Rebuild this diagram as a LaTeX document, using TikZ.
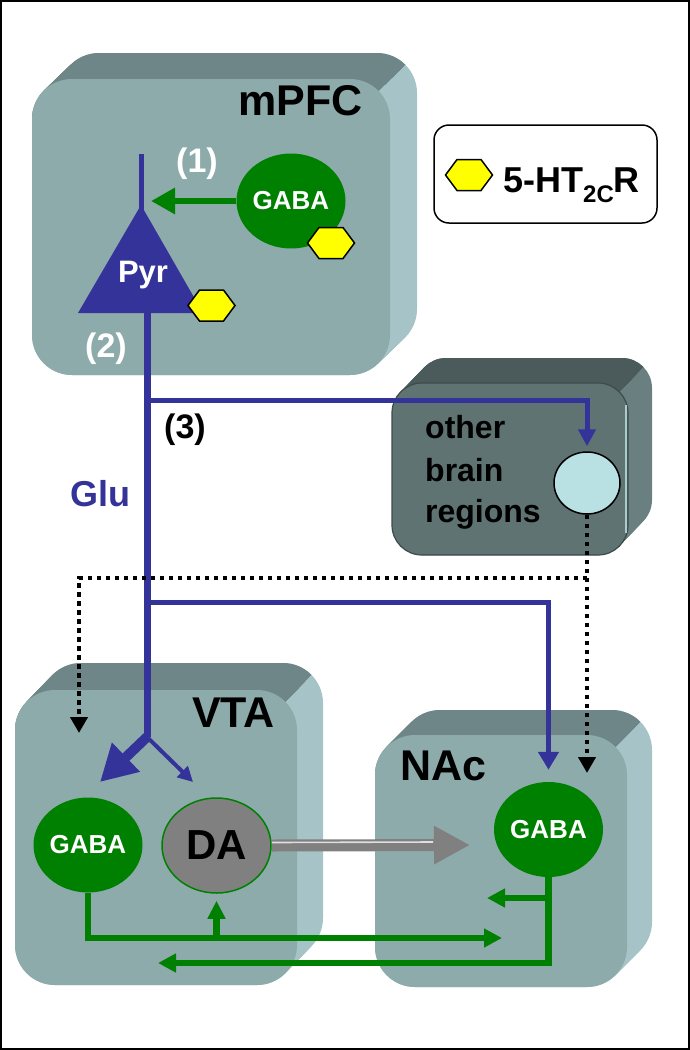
\documentclass[tikz,border=0pt]{standalone}
\usepackage{fontspec}
\setmainfont{Liberation Sans}
\usetikzlibrary{arrows.meta,calc,shapes.geometric}
\definecolor{frontc}{HTML}{8EABAC}
\definecolor{topc}{HTML}{6E8687}
\definecolor{sidec}{HTML}{A6C4C7}
\definecolor{ofront}{HTML}{5F7373}
\definecolor{otop}{HTML}{4B5A5A}
\definecolor{oside}{HTML}{6A8080}
\definecolor{oedge}{HTML}{3D4B4B}
\definecolor{glu}{HTML}{333399}
\definecolor{gaba}{HTML}{008000}
\definecolor{dagray}{HTML}{808080}
\definecolor{hexy}{HTML}{FFFF00}
\definecolor{circ}{HTML}{B9E0E3}
\def\boxr{40}
% left, top, right, bottom, dx, dy, topcol, sidecol, frontcol
\newcommand\brainbox[9]{%
  \foreach \k in {0,...,20}{%
    \pgfmathsetmacro\ff{\k/20}%
    \fill[#8,rounded corners=\boxr pt] ({#1+\ff*(#5)},{#2+\ff*(#6)}) rectangle ({#3+\ff*(#5)},{#4+\ff*(#6)});
  }
  \begin{scope}
    \clip ({#3-0.293*\boxr+2*(#5)},{#2+0.293*\boxr+2*(#6)}) -- ({#1-100},{#2+0.293*\boxr+2*(#6)})
      -- ({#1-100},{#2+0.293*\boxr-2*(#6)}) -- ({#3-0.293*\boxr-2*(#5)},{#2+0.293*\boxr-2*(#6)}) -- cycle;
    \foreach \k in {0,...,20}{%
      \pgfmathsetmacro\ff{\k/20}%
      \fill[#7,rounded corners=\boxr pt] ({#1+\ff*(#5)},{#2+\ff*(#6)}) rectangle ({#3+\ff*(#5)},{#4+\ff*(#6)});
    }
  \end{scope}
  \fill[#9,rounded corners=\boxr pt] (#1,#2) rectangle (#3,#4);
}
\newcommand\hexa[1]{%
  \draw[hexstyle] ($(#1)+(-23.5,0)$) -- ++(11.5,-15.5) -- ++(24,0) -- ++(11.5,15.5) -- ++(-11.5,15.5) -- ++(-24,0) -- cycle;}
\tikzset{
  hexstyle/.style={fill=hexy,draw=black,line width=1.5pt,line join=miter},
  lbl/.style={inner sep=0pt,anchor=base,font=\fontsize{34}{34}\selectfont\bfseries},
  region/.style={inner sep=0pt,anchor=base west,font=\fontsize{43}{43}\selectfont\bfseries},
  obrtext/.style={inner sep=0pt,anchor=base west,font=\fontsize{32}{32}\selectfont\bfseries},
  gabacell/.style={ellipse,fill=gaba,text=white,inner sep=0pt,minimum width=109pt,minimum height=95pt,font=\fontsize{26}{26}\selectfont\bfseries},
  gluline/.style={draw=glu,line width=5pt},
  gabaline/.style={draw=gaba,line width=6.5pt},
  dotline/.style={draw=black,line width=4.5pt,dash pattern=on 4.5pt off 4.5pt},
}
\begin{document}
\begin{tikzpicture}[x=1pt,y=-1pt]
\useasboundingbox (0,0) rectangle (690,1050);
\fill[white] (0,0) rectangle (690,1050);
\draw[line width=2pt] (1,1) rectangle (689,1049);

% boxes
\brainbox{32}{79}{390}{375}{27}{-26}{topc}{sidec}{frontc}
\def\boxr{30}
\brainbox{392}{383}{628}{555}{24}{-25}{otop}{oside}{ofront}
\draw[oedge,line width=1.2pt,rounded corners=30pt] (392,383) rectangle (628,555);
\draw[circ!80!oside,line width=1.5pt] (626,405) -- (626,533);
\def\boxr{40}
\brainbox{15}{690}{297}{985}{26}{-27}{topc}{sidec}{frontc}
\brainbox{375}{735}{627}{987}{25}{-25}{topc}{sidec}{frontc}

% legend
\node[draw=black,line width=1.5pt,fill=white,rounded corners=15pt,minimum width=223pt,minimum height=98pt,inner sep=0pt] (legend) at (545.5,174) {};
\coordinate (leghex) at (469,175);
\hexa{leghex}
\node[inner sep=0pt,anchor=base west,font=\fontsize{36}{36}\selectfont\bfseries] (legtext) at (503,192) {5-HT\raisebox{-10pt}{\fontsize{24}{24}\selectfont 2C}R};

% labels
\node[region] (mpfc) at (238,115) {mPFC};
\node[region] (vta) at (192,727) {VTA};
\node[region] (nac) at (400,780) {NAc};
\node[obrtext] (obr1) at (425,438) {other};
\node[obrtext] (obr2) at (425,481) {brain};
\node[obrtext] (obr3) at (425,522) {regions};

% mPFC cells
\coordinate (apex) at (141,205);
\coordinate (dendtop) at (141,154);
\coordinate (pyrbase) at (147,313);
\coordinate (j1) at (147,400);
\coordinate (j2) at (147,602);
\coordinate (junc) at (147,737);
\draw[glu,line width=5pt] (dendtop) -- ($(apex)+(0,6)$);
\fill[glu] (apex) -- (78,313) -- (203,313) -- cycle;
\node[lbl,text=white,font=\fontsize{31}{31}\selectfont\bfseries] (pyr) at (143,282) {Pyr};
\coordinate (pyrhex) at (211.5,305.5);
\hexa{pyrhex}
\node[gabacell] (gm) at (291,201) {GABA};
\coordinate (gmhex) at (331,243);
\hexa{gmhex}
\coordinate (pyrin) at (151,201);
\draw[gabaline,-{Triangle[length=24pt,width=25pt]}] (gm.west) -- (pyrin);
\node[lbl,text=white] (n1) at (197,172) {(1)};
\node[lbl,text=white] (n2) at (106,357) {(2)};
\node[lbl,text=black] (n3) at (185,438) {(3)};
\node[lbl,text=glu,font=\fontsize{36}{36}\selectfont\bfseries] (glulbl) at (100,506) {Glu};

% other brain regions cell
\node[ellipse,draw=black,line width=1.5pt,fill=circ,minimum width=66pt,minimum height=62pt,inner sep=0pt] (obr) at (587,483) {};

% VTA and NAc cells
\node[gabacell] (vtag) at (88,845) {GABA};
\node[ellipse,fill=dagray,draw=gaba,line width=1.5pt,inner sep=0pt,minimum width=109pt,minimum height=95pt,font=\fontsize{42}{42}\selectfont\bfseries] (da) at (216.5,845.5) {DA};
\node[gabacell] (nacg) at (548.5,829.5) {GABA};

% glutamate projections
\draw[gluline,line width=7pt] (pyrbase) -- (junc);
\draw[gluline,-{Triangle[length=17pt,width=17pt]},shorten >=5pt] (j1) -| (obr.north);
\draw[gluline,-{Triangle[length=18pt,width=20pt]},shorten >=12pt] (j2) -| (nacg.north);
\coordinate (thicktip) at (100,782);
\coordinate (thintip) at (193,782);
\draw[glu,line width=10pt,-{Triangle[length=36pt,width=38pt]}] (junc) -- (thicktip);
\draw[glu,line width=4pt,-{Triangle[length=15pt,width=15pt]}] (junc) -- (thintip);

% dotted projections
\coordinate (dotsplit) at (587,578);
\coordinate (dotend) at (587,773);
\coordinate (vtain) at (79,733);
\draw[dotline,-{Triangle[length=16pt,width=17pt]}] (obr.south) -- (dotend);
\draw[dotline,-{Triangle[length=16pt,width=17pt]}] (dotsplit) -| (vtain);

% dopamine projection
\coordinate (datip) at (470,845);
\coordinate (dahead) at (433,842);
\draw[dagray,line width=12pt,-{Triangle[length=36pt,width=36pt]}] (da.east) -- (datip);
\draw[white!75!dagray,line width=1.6pt] ($(da.east)+(0,-3)$) -- (dahead);

% GABA projections
\coordinate (g1) at (216.5,938);
\coordinate (nacin) at (502,938);
\coordinate (vtaback) at (158,963);
\coordinate (nbr) at (549.5,898);
\coordinate (nbrtip) at (487,898);
\draw[gabaline,-{Triangle[length=18pt,width=18pt]}] (vtag.south) |- (nacin);
\draw[gabaline,-{Triangle[length=18pt,width=17pt]},shorten >=7pt] (g1) -- (da.south);
\draw[gabaline,-{Triangle[length=18pt,width=18pt]}] (nacg.south) |- (vtaback);
\draw[gabaline,-{Triangle[length=18pt,width=18pt]}] (nbr) -- (nbrtip);
\end{tikzpicture}
\end{document}
